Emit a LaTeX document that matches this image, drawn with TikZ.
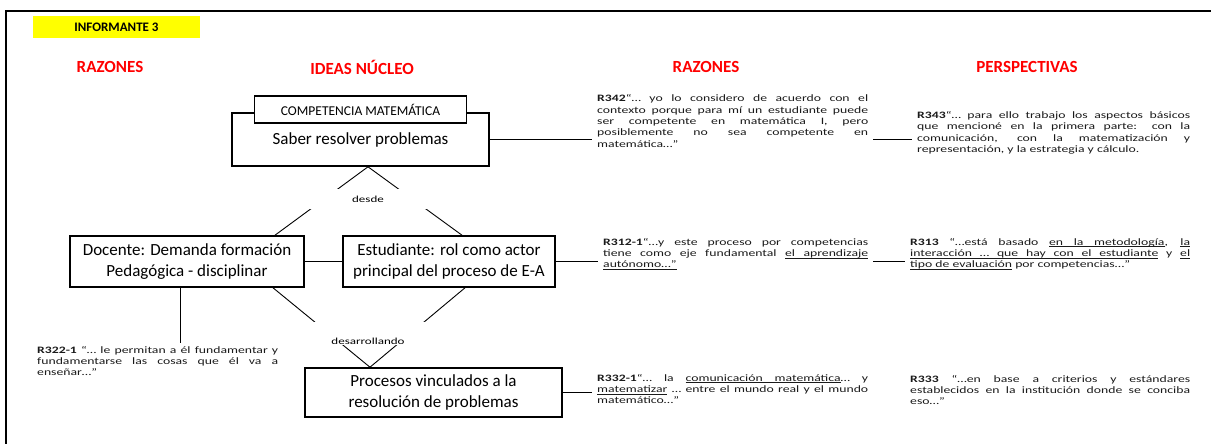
\documentclass[tikz,border=0pt]{standalone}
\usepackage{fontspec}
\setmainfont{Carlito}
\newfontfamily\quotefont[FakeStretch=1.4]{Carlito}
\usetikzlibrary{backgrounds}
\definecolor{headred}{HTML}{FF0000}
\definecolor{tagyellow}{HTML}{FFFF00}
\definecolor{inkblack}{HTML}{1A1A1A}
\tolerance=10000
\hbadness=10000
\hyphenpenalty=10000
\newcommand\ulw[1]{\leavevmode\setbox0\hbox{#1}\rlap{\vrule height -1.3pt depth 1.9pt width\wd0}\box0\relax}
\newcommand\ulsp{\leaders\hrule height -1.3pt depth 1.9pt\hskip\fontdimen2\font plus\fontdimen3\font minus\fontdimen4\font}
\tikzset{
  ideabox/.style={draw=black,line width=1.6pt,fill=white,align=center,font=\fontsize{17}{20.5}\selectfont,inner sep=0pt},
  headnode/.style={font=\bfseries\fontsize{17}{20}\selectfont,text=headred,inner sep=0pt},
  quotenode/.style={font=\quotefont\fontsize{9.8}{11.4}\selectfont,align=justify,inner xsep=5pt,inner ysep=3pt,anchor=west,text=inkblack},
  linknode/.style={fill=white,font=\quotefont\fontsize{9.3}{11}\selectfont,inner sep=0pt},
  linkline/.style={draw=black,line width=0.9pt},
}

\begin{document}
\begin{tikzpicture}[x=1pt,y=-1pt]
    \useasboundingbox (0,0) rectangle (1211,444);
    \draw[line width=1.4pt] (5,11) -- (1211,11);
    \draw[line width=1.4pt] (6,11) -- (6,444);
    \draw[line width=2.6pt] (1193,11) -- (1211,11);
    \node[fill=tagyellow,minimum width=167pt,minimum height=22pt,font=\bfseries\fontsize{13}{15}\selectfont] (informante) at (116.5,27) {INFORMANTE 3};
    \node[headnode] (razones1) at (110,67) {RAZONES};
    \node[headnode] (ideas) at (362,67) {IDEAS NÚCLEO};
    \node[headnode] (razones2) at (706,67) {RAZONES};
    \node[headnode] (perspectivas) at (1027,67) {PERSPECTIVAS};
    \node[ideabox,minimum width=257pt,minimum height=53pt] (saber) at (360.5,139.5) {Saber resolver problemas};
    \node[ideabox,minimum width=212pt,minimum height=27pt,font=\fontsize{13.5}{15}\selectfont] (comp) at (360.5,109.5) {COMPETENCIA MATEMÁTICA};
    \node[ideabox,minimum width=234pt,minimum height=51pt] (doc) at (187,261.5) {Docente: Demanda formación\\Pedagógica - disciplinar};
    \node[ideabox,minimum width=212pt,minimum height=51pt] (est) at (449,261.5) {Estudiante: rol como actor\\principal del proceso de E-A};
    \node[ideabox,minimum width=257pt,minimum height=49pt] (proc) at (433.5,392.5) {Procesos vinculados a la\\resolución de problemas};
    \node[linknode,minimum width=130pt,minimum height=20pt] (desde) at (368,199) {desde};
    \node[linknode,minimum width=130pt,minimum height=23pt] (desarr) at (368,333.5) {\raisebox{-11pt}[0pt][0pt]{desarrollando}};
    \node[quotenode,text width=271pt] (r342) at (592,121) {\textbf{R342}“… yo lo considero de acuerdo con el\linebreak contexto porque para mí un estudiante puede\linebreak ser competente en matemática I, pero\linebreak posiblemente no sea competente en\linebreak matemática…”};
    \node[quotenode,text width=273pt] (r343) at (912,133) {\textbf{R343}“… para ello trabajo los aspectos básicos\linebreak que mencioné en la primera parte: con la\linebreak comunicación, con la matematización y\linebreak representación, y la estrategia y cálculo.};
    \node[quotenode,text width=265pt] (r312) at (598,254) {\textbf{R312-1}“…y este proceso por competencias\linebreak tiene como eje fundamental \ulw{el}\ulsp\ulw{aprendizaje}\linebreak \ulw{autónomo…”}};
    \node[quotenode,text width=280pt] (r313) at (905,254) {\textbf{R313} “…está basado \ulw{en}\ulsp\ulw{la}\ulsp\ulw{metodología}, \ulw{la}\linebreak \ulw{interacción}\ulsp\ulw{…}\ulsp\ulw{que}\ulsp\ulw{hay}\ulsp\ulw{con}\ulsp\ulw{el}\ulsp\ulw{estudiante} y \ulw{el}\linebreak \ulw{tipo}\ulsp\ulw{de}\ulsp\ulw{evaluación} por competencias…”};
    \node[quotenode,text width=241pt] (r322) at (32,361) {\textbf{R322-1} “… le permitan a él fundamentar y\linebreak fundamentarse las cosas que él va a\linebreak enseñar…”};
    \node[quotenode,text width=271pt] (r332) at (592,389) {\textbf{R332-1}“… la \ulw{comunicación}\ulsp\ulw{matemática}… y\linebreak \ulw{matematizar} … entre el mundo real y el mundo\linebreak matemático…”};
    \node[quotenode,text width=280pt] (r333) at (905,390) {\textbf{R333} “…en base a criterios y estándares\linebreak establecidos en la institución donde se conciba\linebreak eso…”};
    \begin{scope}[on background layer]
      \draw[linkline] ([xshift=7.5pt]saber.south) -- ([xshift=88pt]doc.north);
      \draw[linkline] ([xshift=7.5pt]saber.south) -- ([xshift=13pt]est.north);
      \draw[linkline] ([xshift=86pt]doc.south) -- ([xshift=-63.5pt]proc.north);
      \draw[linkline] ([xshift=16pt]est.south) -- ([xshift=-63.5pt]proc.north);
    \end{scope}
    \draw[linkline] (saber.east) -- (saber.east -| r342.west);
    \draw[linkline] (r342.east |- saber.east) -- (r343.west |- saber.east);
    \draw[linkline] (doc.east) -- (est.west);
    \draw[linkline] (est.east) -- (est.east -| r312.west);
    \draw[linkline] (r312.east |- est.east) -- (r313.west |- est.east);
    \draw[linkline] ([xshift=-7pt]doc.south) -- ([xshift=-7pt]doc.south |- r322.north);
    \draw[linkline] (proc.east) -- (proc.east -| r332.west);
  \end{tikzpicture}
\end{document}
